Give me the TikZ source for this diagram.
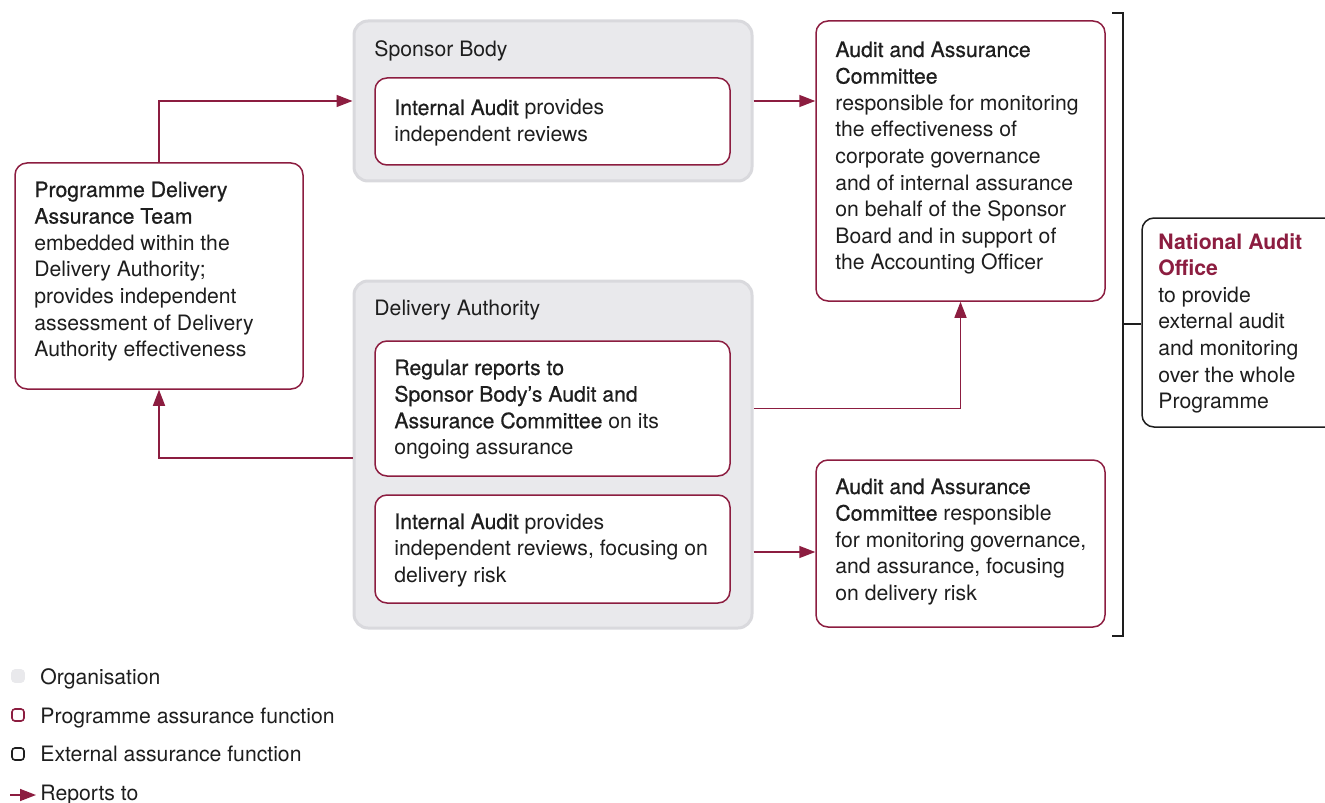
\documentclass[tikz,border=0pt]{standalone}
\usepackage{fontspec}
\setmainfont{TeX Gyre Heros}
\newfontfamily\headfont[FakeBold=0.6]{TeX Gyre Heros}
\usetikzlibrary{arrows.meta,positioning}
\usepackage{xcolor}
\definecolor{maroon}{HTML}{8C1D40}
\definecolor{orgfill}{HTML}{E9E9EC}
\definecolor{orgline}{HTML}{D9D9DD}
\definecolor{ink}{HTML}{1E1E1E}
\newcommand{\hd}[1]{{\headfont #1}}
\tikzset{
  base/.style={rounded corners=6pt,line width=0.75pt,fill=white,inner sep=0pt},
  org/.style={base,rounded corners=7pt,draw=orgline,fill=orgfill,line width=1.5pt},
  prog/.style={base,draw=maroon},
  ext/.style={base,draw=ink},
  % multi-line text sits on the baseline of its last line
  txt/.style={anchor=base west,align=left,inner sep=0pt,text=ink,font=\fontsize{10.6}{13.3}\selectfont},
  swatch/.style={rounded corners=1.5pt,minimum size=6pt,inner sep=0pt,line width=0.8pt},
  flow/.style={-{Triangle[length=8pt,width=6pt]},line width=0.75pt,draw=maroon},
  bracket/.style={line width=0.6pt,draw=ink}
}

\begin{document}
\begin{tikzpicture}[x=0.5pt,y=-0.5pt]
\useasboundingbox (0,0) rectangle (1325,802);

% organisations
\node[org,minimum width=199pt,minimum height=80pt] (sponsor) at (553,101) {};
\node[org,minimum width=199pt,minimum height=173.5pt] (da) at (553,454.5) {};
\node[txt] (sponsorlbl) at (374,57) {Sponsor Body};
\node[txt] (dalbl) at (374,315) {Delivery Authority};

% programme assurance functions
\node[prog,minimum width=177.5pt,minimum height=43.5pt] (sbia) at (552.5,121.5) {};
\node[prog,minimum width=177.5pt,minimum height=67.5pt] (dareg) at (552.5,408.5) {};
\node[prog,minimum width=177.5pt,minimum height=54pt] (daia) at (552.5,549) {};
\node[prog,minimum width=144pt,minimum height=113pt] (pdat) at (159,276) {};
\node[prog,minimum width=144.5pt,minimum height=140pt] (aact) at (960.5,161) {};
\node[prog,minimum width=144.5pt,minimum height=83.5pt] (aacb) at (960.5,543.5) {};

\node[txt] (sbiatxt) at (394,141.6) {\hd{Internal Audit} provides\\independent reviews};
\node[txt] (daregtxt) at (394,454.8) {\hd{Regular reports to}\\\hd{Sponsor Body’s Audit and}\\\hd{Assurance Committee} on its\\ongoing assurance};
\node[txt] (daiatxt) at (394,582.2) {\hd{Internal Audit} provides\\independent reviews, focusing on\\delivery risk};
\node[txt] (pdattxt) at (34,356.6) {\hd{Programme Delivery}\\\hd{Assurance Team}\\embedded within the\\Delivery Authority;\\provides independent\\assessment of Delivery\\Authority effectiveness};
\node[txt] (aacttxt) at (835,269.8) {\hd{Audit and Assurance}\\\hd{Committee}\\responsible for monitoring\\the effectiveness of\\corporate governance\\and of internal assurance\\on behalf of the Sponsor\\Board and in support of\\the Accounting Officer};
\node[txt] (aacbtxt) at (835,600.4) {\hd{Audit and Assurance}\\\hd{Committee} responsible\\for monitoring governance,\\and assurance, focusing\\on delivery risk};

% external assurance
\node[ext,minimum width=99pt,minimum height=104.5pt] (nao) at (1241,322.5) {};
\node[txt] (naotxt) at (1158,408.6) {{\bfseries\color{maroon}National Audit}\\{\bfseries\color{maroon}Office}\\to provide\\external audit\\and monitoring\\over the whole\\Programme};

\coordinate (brtop) at (1123,13);
\coordinate (brbot) at (1123,636);
\coordinate (brmid) at (1123,324);
\draw[bracket] ([xshift=-5.5pt]brtop) -- (brtop) -- (brbot) -- ([xshift=-5.5pt]brbot);
\draw[bracket] (brmid) -- (nao.west |- brmid);

% reporting lines
\draw[flow] (pdat.north) |- (sponsor.west);
\draw[flow] (sponsor.east) -- (aact.west |- sponsor.east);
\draw[flow] (dareg.east -| da.east) -| (aact.south);
\draw[flow] ([yshift=-1.75pt]da.west) -| (pdat.south);
\draw[flow] ([yshift=-1.5pt]daia.east -| da.east) -- ([yshift=-1.5pt]aacb.west |- daia.east);

% legend
\node[swatch,fill=orgfill,draw=orgfill] (korg) at (18,676) {};
\node[swatch,draw=maroon,fill=white] (kprog) at (18,715) {};
\node[swatch,draw=ink,fill=white] (kext) at (18,754) {};
\coordinate (karrow) at (10,795);
\node[txt] (korglbl) at (40,684) {Organisation};
\node[txt] (kproglbl) at (40,723) {Programme assurance function};
\node[txt] (kextlbl) at (40,761) {External assurance function};
\node[txt] (kflowlbl) at (40,800) {Reports to};
\draw[flow] (karrow) -- ([xshift=-2pt]karrow -| kflowlbl.west);
\end{tikzpicture}
\end{document}
